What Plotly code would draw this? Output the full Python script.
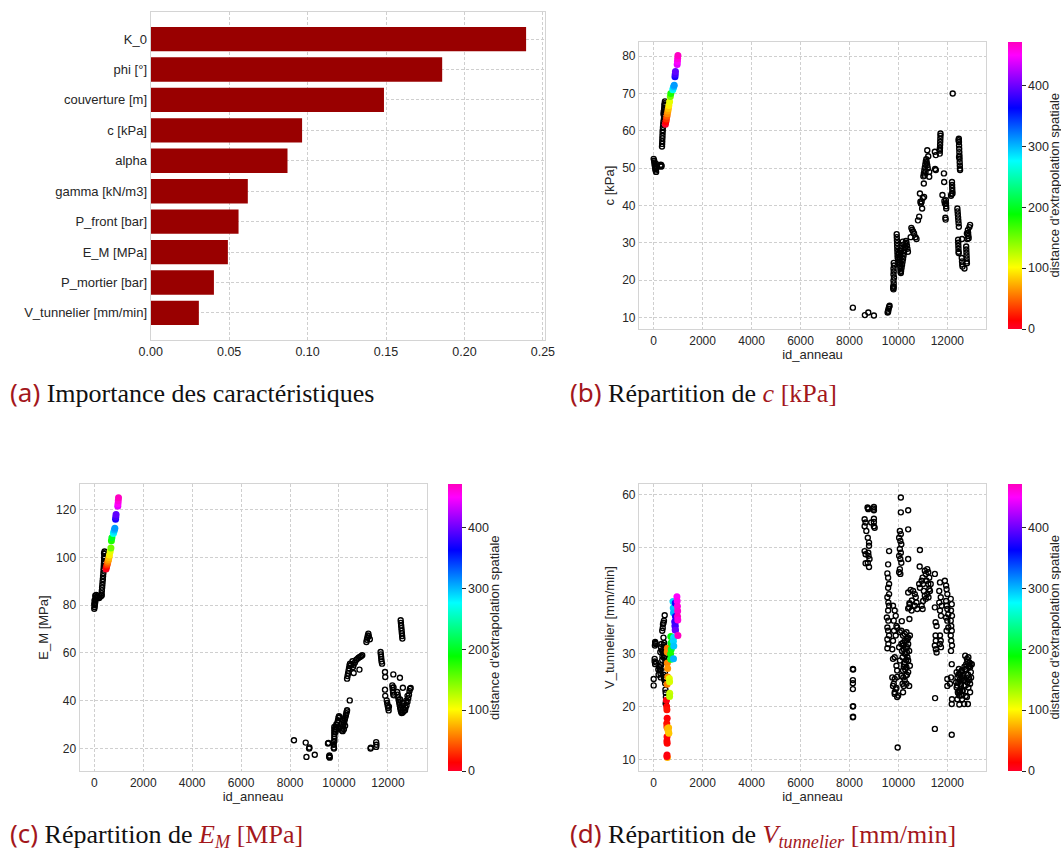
import plotly.graph_objects as go

# ---------------- (a) feature importance ----------------
features = ["K_0", "phi [°]", "couverture [m]", "c [kPa]", "alpha", "gamma [kN/m3]",
            "P_front [bar]", "E_M [MPa]", "P_mortier [bar]", "V_tunnelier [mm/min]"]
importances = [0.2393, 0.1858, 0.1487, 0.0965, 0.0872, 0.0619, 0.0560, 0.0492, 0.0403, 0.0307]
imp_ticks = [0.0, 0.05, 0.10, 0.15, 0.20, 0.25]

# ---------------- (b) c [kPa] ----------------
b_x = [0, 20, 30, 40, 50, 60, 70, 80, 100, 100, 90, 110, 300, 310, 290, 320,
       340, 345, 350, 355, 360, 365, 370, 380, 390, 400, 400, 410,
       420, 425, 430, 435, 440, 445, 450, 455, 460, 440, 430,
       8140, 8630, 8770, 9000,
       9560, 9580, 9600, 9620, 9640, 9580,
       9800, 9790, 9810, 9800, 9820, 9800, 9810, 9800, 9820, 9810, 9790, 9810,
       9930, 9935, 9940, 9945, 9950, 9955, 9960, 9965, 9970, 9990, 10000,
       10030, 10040, 10050, 10060, 10070, 10080, 10090, 10100, 10110, 10130, 10150, 10170, 10190,
       10210, 10230, 10250, 10270, 10290, 10310, 10330, 10350, 10370, 10390, 10080, 10100, 10120,
       10060, 10200, 10180,
       10530, 10560, 10600, 10640, 10700, 10740, 10850, 10880, 10970, 11050, 11040, 10900, 10920,
       10800, 10500, 10950, 11000,
       11020, 11040, 11060, 11080, 11100, 11120, 11140, 11160, 11180, 11200, 11070, 11110,
       11180, 11220, 11260, 11260, 11490, 11530, 11530, 11500,
       11690, 11695, 11700, 11705, 11710, 11715, 11720, 11720, 11690,
       11860, 11870, 11800, 11940, 11945, 11950, 11955, 11920, 11930, 11900, 11880,
       12190, 12195, 12200, 12205, 12210, 12170, 12150,
       12220,
       12470, 12475, 12480, 12485, 12490, 12495, 12500, 12505, 12510, 12515, 12520, 12460, 12480,
       12410, 12420, 12430, 12440, 12450, 12460, 12470,
       12440, 12445, 12450, 12455, 12460, 12465,
       12590, 12600, 12610, 12620, 12700,
       12770, 12775, 12780, 12785, 12790, 12795, 12800,
       12840, 12850, 12860, 12870, 12930, 12900, 12800, 12820, 12600]
b_y = [52.5, 52.0, 51.5, 51.0, 50.6, 50.2, 49.8, 49.4, 49.0, 50.5, 51.2, 50.0, 50.4, 50.8, 50.9, 50.6,
       55.8, 56.5, 57.2, 58.0, 58.7, 59.5, 60.2, 61.0, 61.8, 62.5, 64.5, 65.2,
       63.2, 63.8, 64.4, 65.0, 65.6, 66.2, 66.8, 67.4, 67.9, 67.0, 66.0,
       12.6, 10.6, 11.3, 10.5,
       11.3, 11.8, 12.3, 12.8, 13.1, 11.5,
       17.5, 18.3, 19.1, 19.9, 20.7, 21.5, 22.3, 23.1, 23.9, 24.6, 17.8, 18.2,
       32.3, 31.5, 30.7, 29.9, 29.1, 28.3, 27.5, 26.7, 26.0, 25.5, 24.8,
       27.0, 26.2, 25.4, 24.6, 23.8, 23.0, 22.2, 21.9, 22.5, 23.3, 24.1, 24.9, 25.7,
       26.5, 27.3, 28.1, 28.9, 29.7, 30.5, 30.0, 29.2, 28.4, 27.6, 26.5, 27.8, 28.6,
       28.0, 29.5, 30.3,
       34.0, 33.5, 33.0, 32.5, 31.5, 31.0, 37.0, 43.2, 39.2, 42.3, 45.9, 41.0, 40.5,
       36.0, 31.5, 41.0, 42.0,
       47.8, 48.6, 49.4, 50.2, 51.0, 51.8, 52.4, 51.5, 50.8, 50.0, 48.0, 49.0,
       54.8, 53.2, 49.0, 47.7, 54.4, 53.5, 49.5, 49.8,
       53.9, 54.7, 55.5, 56.3, 57.1, 57.9, 58.7, 59.3, 55.0,
       48.6, 46.3, 42.8, 41.4, 40.6, 39.8, 39.2, 36.7, 36.2, 40.5, 41.2,
       46.3, 45.5, 44.7, 43.9, 43.2, 43.0, 42.6,
       70.0,
       57.9, 57.0, 56.1, 55.2, 54.3, 53.4, 52.5, 51.6, 50.7, 49.9, 49.5, 57.5, 53.0,
       39.2, 38.4, 37.6, 36.8, 36.0, 35.2, 34.3,
       30.8, 30.0, 29.2, 28.4, 27.6, 27.2,
       25.9, 25.0, 24.2, 23.6, 23.1,
       29.0, 28.2, 27.4, 26.6, 25.8, 25.0, 24.5,
       33.4, 32.6, 31.8, 31.2, 34.8, 34.2, 32.5, 31.0, 31.0]
b_ext_x = [480, 500, 520, 540, 560, 580, 600, 620, 650, 680, 700, 780, 800, 820, 840, 870, 880, 890,
           960, 970, 980, 990]
b_ext_y = [61.8, 62.5, 63.2, 63.9, 64.6, 65.3, 66.0, 66.8, 67.8, 69.2, 70.0, 71.0, 71.5, 71.9, 72.2,
           74.5, 75.2, 75.9, 77.8, 78.6, 79.4, 80.2]
b_ext_d = [0, 15, 30, 45, 60, 70, 80, 95, 110, 150, 180, 270, 285, 300, 310, 370, 385, 395,
           440, 450, 460, 470]

# ---------------- (c) E_M [MPa] ----------------
c_x = [0, 10, 20, 30, 40, 50, 60, 40, 80, 100, 150, 200, 250, 300, 0, 10,
       300, 310, 320, 330, 340, 350, 360, 370, 380, 290,
       385, 390, 395, 400, 405, 410, 415, 420, 420, 410, 400,
       8160, 8640, 8780, 8790, 8670, 9010,
       9550, 9570, 9610, 9615, 9620, 9600,
       9780, 9785, 9790, 9795,
       9810, 9810, 9810, 9810, 9810, 9810, 9810,
       9860, 9880, 9900, 9920, 9940, 9960, 9980, 10000, 10020, 9870, 9890,
       10120, 10140, 10160, 10180, 10200, 10220, 10240, 10260, 10280, 10300, 10320, 10330, 10150, 10200, 10250,
       10440,
       10330, 10350, 10370, 10390, 10410, 10430, 10450, 10575, 10600, 10650, 10700, 10750, 10800, 10850,
       10900, 10950, 10836, 10600, 10500, 10550,
       11120, 11140, 11160, 11180, 11200, 11220, 11260,
       11290, 11300, 11520, 11520, 11530,
       11700, 11710, 11720, 11730, 11740, 11760,
       11880, 11890, 12220, 12490, 11880, 11890,
       11950, 11970, 11990, 12010, 12030, 12040,
       12180, 12190, 12200, 12210, 12220, 12250, 12230,
       12520, 12530, 12540, 12550, 12560, 12570, 12580, 12590,
       12610,
       12380, 12400, 12420, 12440, 12460, 12480, 12500, 12520, 12540, 12560, 12600, 12640, 12680, 12720,
       12760, 12800, 12830, 12860, 12880, 12900, 12930, 12500, 12560, 12620, 12700, 12750, 12800, 12650]
c_y = [78.5, 79.2, 80.0, 80.8, 81.6, 82.4, 83.2, 84.0, 84.3, 83.5, 83.2, 83.0, 83.6, 84.2, 80.5, 82.0,
       85.0, 86.2, 87.4, 88.6, 89.8, 91.0, 92.2, 93.4, 94.6, 84.0,
       95.5, 96.5, 97.5, 98.5, 99.5, 100.5, 101.5, 102.5, 100.0, 98.0, 101.8,
       23.4, 22.4, 19.9, 20.4, 16.4, 17.3,
       22.0, 22.3, 17.0, 16.4, 16.1, 16.6,
       22.6, 21.5, 20.4, 19.9,
       23.0, 24.0, 25.0, 26.0, 27.0, 28.0, 29.0,
       26.8, 27.8, 28.8, 29.8, 30.8, 31.8, 32.8, 33.5, 33.0, 29.0, 30.0,
       27.5, 28.3, 29.1, 29.9, 30.7, 31.5, 32.3, 33.1, 33.9, 34.7, 35.5, 36.0, 27.2, 28.0, 29.5,
       40.1,
       49.2, 50.3, 51.4, 52.5, 53.6, 54.7, 55.5, 54.1, 55.0, 56.0, 57.0, 57.5, 58.0, 58.3,
       58.6, 59.0, 53.0, 51.6, 55.0, 56.5,
       64.6, 65.5, 66.4, 67.3, 68.1, 67.0, 65.7,
       19.9, 20.3, 22.6, 20.6, 21.5,
       60.4, 59.4, 58.4, 57.4, 56.4, 55.5,
       52.0, 49.9, 51.0, 49.6, 44.6, 42.0,
       40.1, 39.0, 37.9, 36.9, 35.9, 37.5,
       46.4, 45.4, 44.4, 43.4, 42.5, 42.2, 45.5,
       73.7, 72.6, 71.5, 70.4, 69.3, 68.2, 67.1, 66.0,
       45.4,
       43.6, 42.5, 41.4, 40.3, 39.2, 38.1, 37.0, 36.0, 35.3, 34.8, 35.0, 35.5, 36.0, 37.0,
       38.0, 39.5, 41.0, 42.5, 44.0, 45.0, 45.3, 40.5, 38.0, 37.0, 36.0, 40.0, 42.0, 39.0]
c_ext_x = [480, 500, 520, 540, 560, 580, 600, 620, 650, 680, 700, 720, 780, 800, 820, 840, 870, 880, 890,
           960, 970, 980, 990]
c_ext_y = [95.2, 96.0, 96.8, 97.6, 98.4, 99.2, 100.0, 101.0, 102.5, 104.0, 107.0, 108.3, 110.0, 110.8,
           111.5, 112.2, 116.0, 117.0, 118.0, 121.5, 122.5, 123.8, 125.0]
c_ext_d = [0, 15, 30, 45, 60, 70, 80, 95, 110, 150, 180, 200, 270, 285, 300, 310, 370, 385, 395,
           440, 450, 460, 470]

# ---------------- (d) V_tunnelier [mm/min] ----------------
d_x = [0, 0, 40, 60, 40, 50, 70, 80, 60, 100, 250, 260, 280, 290, 300, 350, 360, 380, 350, 370, 380, 400,
       420, 450, 410, 430, 440, 400, 420, 460, 470, 480, 450, 460, 470, 400, 420, 440, 470, 480, 490, 500,
       505, 490, 270, 300, 320, 330, 400, 190, 200, 230,
       8140, 8140, 8140, 8140, 8140, 8140, 8150, 8150, 8150,
       8740, 8770, 9000, 9000, 8620, 8660, 9000, 9000, 8890, 8620, 8690, 8750, 8800, 8800, 8620, 8660,
       8770, 8780, 8820, 8750, 8660, 8800, 9000, 9030, 8760, 8990,
       9620, 9580, 9550, 9580, 9620, 9580, 9620, 9550, 9590, 9620, 9580, 9530, 9590, 9550, 9580, 9620,
       9550, 9590, 9550,
       9780, 9850, 9890, 9810, 9920, 9820, 9890, 9780, 9750, 9850, 9750, 9850, 9780, 9890, 9850, 9950,
       9780, 9920, 9950,
       10100, 10100, 10400, 10060, 10100, 10030, 10080, 10120, 10060, 10100, 10030, 10080, 10120, 10060,
       10030, 10080, 10400, 10400, 10880, 9970,
       10140, 9950, 10060, 10190, 10330, 10400, 10260, 10120, 10030, 10220, 10360, 10440, 10300, 10170,
       10060, 10260, 10400, 10470, 10330, 10190, 10120, 10300, 10400, 10260, 10170, 9950, 9810, 9920,
       9850, 9990, 10220, 10330, 10440, 10190, 10120, 10260, 10330, 10400, 10470, 10370, 10230,
       10200, 10250, 10300, 10350, 10150, 10280, 10350, 10200, 10320, 10380, 10220, 10180,
       10400, 10470, 10440, 10540, 10600, 10670, 10710, 10740, 10670, 10770, 10850, 10880, 10950, 10990,
       11010, 11040, 11080, 11010, 10950, 10990, 11080, 11120, 11180, 11220, 11260, 11150, 11220, 11260,
       11180, 11120, 11230, 11290, 11320, 10450, 10400, 10500, 10550, 10870, 10450,
       11490, 11700, 11490, 11520, 11560, 11520, 11530, 11490, 11530, 11560, 11500, 11490,
       11670, 11730, 11670, 11770, 11700, 11740, 11700, 11730, 11700, 11740,
       11900, 11950, 11970, 12000, 11950, 11970, 12000, 12040, 11950, 12000, 12040, 11970,
       12140, 12180, 12150, 12190, 12140, 12160, 12180, 12140, 12160, 12190, 12150, 12180, 12150, 12110,
       12190, 12180, 12180, 12000, 12000,
       12380, 12410, 12450, 12380, 12430, 12490, 12520, 12550, 12590, 12520, 12470, 12590, 12630, 12660,
       12690, 12630, 12580, 12600, 12410, 12360, 12730, 12770, 12800, 12730, 12860, 12900, 12930, 12960,
       12880, 12820, 12860, 12930, 12800, 12840, 12690, 12490, 12930, 12970, 12900, 13000,
       12450, 12500, 12550, 12600, 12650, 12700, 12750, 12550, 12480, 12620, 12780, 12850, 12900, 12820,
       12880, 12950, 12700, 12400, 12450, 12750]
d_y = [25.2, 24.0, 28.5, 28.0, 29.0, 31.5, 32.0, 31.8, 32.2, 28.3, 27.2, 26.8, 26.2, 25.5, 27.8, 28.8,
       29.5, 30.4, 34.3, 34.8, 35.5, 35.8, 36.2, 37.2, 31.6, 32.0, 31.2, 30.0, 29.2, 30.8, 29.6, 28.5,
       27.5, 26.5, 25.5, 26.0, 25.4, 25.0, 24.4, 23.2, 22.6, 21.8, 21.0, 20.6, 30.3, 31.2, 31.8, 30.6,
       33.0, 27.0, 26.0, 27.5,
       27.1, 25.0, 24.4, 23.3, 20.0, 18.0, 27.0, 20.1, 18.1,
       57.5, 57.2, 57.6, 57.0, 55.3, 54.7, 55.4, 54.8, 54.7, 54.0, 53.1, 51.8, 50.9, 50.3, 49.3, 48.7,
       49.0, 48.4, 47.8, 47.1, 47.0, 46.3, 54.0, 53.7, 57.4, 57.3,
       49.3, 46.8, 45.1, 44.3, 43.1, 42.4, 41.2, 40.6, 39.6, 39.0, 38.1, 36.8, 36.2, 34.9, 34.3, 33.4,
       32.7, 31.8, 31.0,
       39.0, 38.1, 37.1, 36.2, 35.2, 34.3, 33.4, 32.4, 30.8, 29.3, 25.5, 25.2, 23.9, 23.3, 22.4, 21.8,
       29.0, 27.7, 26.8,
       59.4, 56.6, 57.0, 53.1, 52.5, 51.8, 51.2, 50.6, 49.7, 49.0, 48.4, 47.8, 47.1, 45.9, 45.3, 45.0,
       53.4, 47.8, 49.5, 12.3,
       36.1, 34.9, 34.0, 33.4, 34.0, 33.0, 32.4, 31.8, 31.2, 30.8, 31.2, 30.5, 29.9, 29.3, 28.7, 28.3,
       28.7, 27.7, 27.4, 26.8, 25.8, 25.8, 26.5, 24.9, 24.3, 25.6, 24.3, 23.5, 22.7, 22.1, 23.9, 24.3,
       23.9, 22.7, 34.3, 33.7, 32.4, 31.8, 33.4, 29.3, 28.0,
       31.5, 30.0, 31.0, 30.2, 30.5, 27.0, 26.0, 25.5, 28.8, 32.8, 27.5, 32.0,
       41.5, 39.3, 38.7, 38.1, 41.8, 41.2, 40.6, 39.6, 39.0, 38.4, 43.1, 42.4, 43.7, 44.3, 43.1, 41.8,
       40.9, 39.9, 39.0, 38.4, 45.6, 45.0, 45.9, 45.3, 44.3, 43.7, 43.1, 42.1, 41.2, 40.3, 40.6, 41.8,
       43.1, 36.5, 38.5, 42.0, 40.0, 46.4, 39.5,
       45.0, 43.4, 38.7, 35.9, 35.2, 33.4, 32.4, 31.5, 30.8, 30.2, 21.6, 15.8,
       41.8, 40.6, 39.6, 39.0, 38.1, 37.1, 33.4, 32.4, 31.8, 31.2,
       43.7, 42.8, 42.1, 41.2, 39.9, 39.0, 38.4, 37.4, 36.8, 36.2, 34.9, 34.3,
       40.3, 39.3, 38.1, 37.1, 36.2, 35.2, 34.3, 33.4, 32.4, 31.5, 30.5, 28.0, 25.5, 24.3, 21.4, 20.5,
       14.7, 25.2, 23.9,
       26.5, 25.5, 24.6, 23.6, 22.7, 22.1, 23.0, 24.3, 25.2, 26.1, 27.1, 26.8, 25.8, 24.9, 23.9, 23.0,
       22.1, 21.4, 21.4, 24.6, 27.1, 28.0, 29.0, 29.6, 29.3, 28.3, 27.4, 26.5, 25.5, 24.6, 23.6, 22.7,
       21.8, 20.5, 20.5, 20.4, 24.3, 25.5, 27.7, 28.0,
       26.0, 25.0, 24.0, 23.0, 26.0, 25.0, 24.0, 26.5, 23.0, 25.5, 27.0, 26.0, 25.0, 28.5, 27.5, 28.0,
       27.5, 24.0, 22.5, 22.0]
d_ext_x = [520, 530, 540, 550, 535, 540, 560, 545, 540, 550, 545, 560, 540,
           600, 610, 620,
           560, 570, 575, 550,
           640, 650, 655, 650,
           560, 555,
           700, 710, 720, 690, 700, 710,
           790, 800, 810, 815, 805, 820, 810,
           860, 870, 880,
           880, 890, 885, 880, 890,
           950, 960, 970, 980, 975, 985, 990]
d_ext_y = [21.2, 20.0, 19.4, 17.8, 16.8, 16.2, 15.9, 14.3, 13.5, 13.1, 10.9, 10.4, 10.6,
           15.3, 16.0, 15.0,
           28.2, 27.2, 25.6, 24.2,
           25.3, 24.7, 22.5, 21.9,
           31.0, 30.3,
           33.2, 32.0, 30.8, 29.9, 29.0, 28.9,
           39.8, 38.6, 37.7, 33.0, 32.3, 31.4, 29.0,
           36.0, 35.2, 34.5,
           39.5, 37.0, 36.0, 35.2, 34.4,
           40.7, 39.9, 38.9, 38.0, 37.0, 36.3, 33.4]
d_ext_d = [10, 15, 20, 12, 18, 22, 70, 10, 12, 15, 8, 75, 10,
           80, 78, 82,
           60, 65, 62, 58,
           110, 115, 120, 125,
           55, 60,
           190, 195, 200, 180, 185, 205,
           290, 295, 300, 285, 290, 295, 300,
           380, 390, 395,
           370, 375, 380, 385, 400,
           450, 455, 460, 465, 470, 460, 470]

id_ticks = [0, 2000, 4000, 6000, 8000, 10000, 12000]
id_labels = ["0", "2000", "4000", "6000", "8000", "10000", "12000"]
cbar_ticks = [0, 100, 200, 300, 400]
cbar_title = "distance d'extrapolation spatiale"
DIST_MAX = 471

# matplotlib gist_rainbow
rainbow = [[0.000, "rgb(255,0,41)"], [0.030, "rgb(255,0,0)"], [0.215, "rgb(255,255,0)"],
           [0.400, "rgb(0,255,0)"], [0.586, "rgb(0,255,255)"], [0.770, "rgb(0,0,255)"],
           [0.954, "rgb(255,0,255)"], [1.000, "rgb(255,0,191)"]]

W, H = 1061, 851
TXT = "#262626"
FONT = "Liberation Sans, Arial, sans-serif"


def pxx(a):
    return a / W


def pxy(a):
    return 1 - a / H


def px_x(a, b):
    return [pxx(a), pxx(b)]


def px_y(top, bottom):
    return [pxy(bottom), pxy(top)]


fig = go.Figure()

fig.add_trace(go.Bar(x=importances, y=features, orientation="h", width=0.8,
                     marker=dict(color="#990000", line=dict(width=0)),
                     xaxis="x", yaxis="y", showlegend=False))


def black_trace(xs, ys, ax, ay):
    return go.Scatter(x=xs, y=ys, mode="markers", xaxis=ax, yaxis=ay, showlegend=False,
                      marker=dict(symbol="circle-open", size=5, color="black",
                                  line=dict(width=1.4, color="black")))


def color_trace(xs, ys, ds, ax, ay, cbx, cby):
    return go.Scatter(x=xs, y=ys, mode="markers", xaxis=ax, yaxis=ay, showlegend=False,
                      marker=dict(symbol="circle", size=7, color=ds, colorscale=rainbow,
                                  cmin=0, cmax=DIST_MAX, showscale=True, line=dict(width=0),
                                  colorbar=dict(x=cbx, xanchor="left", y=cby, yanchor="middle",
                                                len=287 / H, lenmode="fraction", thickness=14,
                                                thicknessmode="pixels", xpad=0, ypad=0,
                                                outlinewidth=0, tickvals=cbar_ticks,
                                                ticks="outside", ticklen=4, tickcolor=TXT,
                                                tickfont=dict(size=12.5, color=TXT, family=FONT))))


fig.add_trace(black_trace(b_x, b_y, "x2", "y2"))
fig.add_trace(color_trace(b_ext_x, b_ext_y, b_ext_d, "x2", "y2", pxx(1007.7), pxy(185.5)))
fig.add_trace(black_trace(c_x, c_y, "x3", "y3"))
fig.add_trace(color_trace(c_ext_x, c_ext_y, c_ext_d, "x3", "y3", pxx(448.3), pxy(627.5)))
fig.add_trace(black_trace(d_x, d_y, "x4", "y4"))
fig.add_trace(color_trace(d_ext_x, d_ext_y, d_ext_d, "x4", "y4", pxx(1007.7), pxy(627.5)))

common = dict(showgrid=True, gridcolor="#cfcfcf", griddash="3px,2px", gridwidth=0.8,
              showline=True, mirror=True, linecolor="#d4d4d4", linewidth=1.2,
              zeroline=False, ticks="", automargin=False,
              tickfont=dict(size=12, color=TXT, family=FONT))
title_font = dict(size=13, color=TXT, family=FONT)

layout = dict(
    width=W, height=H, autosize=False, margin=dict(l=0, r=0, t=0, b=0, pad=0),
    paper_bgcolor="white", plot_bgcolor="white", showlegend=False,
    font=dict(family=FONT, color=TXT),
    xaxis=dict(domain=px_x(150.7, 545.4), anchor="y", range=[0, 0.2516], tickvals=imp_ticks,
               tickformat=".2f", **{**common, "tickfont": dict(size=12.5, color=TXT, family=FONT)}),
    yaxis=dict(domain=px_y(12, 340), anchor="x", type="category", categoryorder="array",
               categoryarray=features, range=[9.89, -0.89],
               **{**common, "tickfont": dict(size=13, color=TXT, family=FONT)}),
    xaxis2=dict(domain=px_x(639, 986), anchor="y2", range=[-600, 13580], tickvals=id_ticks,
                ticktext=id_labels,
                title=dict(text="id_anneau", font=title_font, standoff=3), **common),
    yaxis2=dict(domain=px_y(42, 329), anchor="x2", range=[6.87, 83.83], tickvals=list(range(10, 81, 10)),
                title=dict(text="c [kPa]", font=title_font, standoff=4), **common),
    xaxis3=dict(domain=px_x(79.6, 426.6), anchor="y3", range=[-600, 13580], tickvals=id_ticks,
                ticktext=id_labels,
                title=dict(text="id_anneau", font=title_font, standoff=3), **common),
    yaxis3=dict(domain=px_y(484, 771), anchor="x3", range=[10.5, 130.8], tickvals=list(range(20, 121, 20)),
                title=dict(text="E_M [MPa]", font=title_font, standoff=4), **common),
    xaxis4=dict(domain=px_x(639, 986), anchor="y4", range=[-600, 13580], tickvals=id_ticks,
                ticktext=id_labels,
                title=dict(text="id_anneau", font=title_font, standoff=3), **common),
    yaxis4=dict(domain=px_y(484, 771), anchor="x4", range=[7.87, 61.94], tickvals=list(range(10, 61, 10)),
                title=dict(text="V_tunnelier [mm/min]", font=title_font, standoff=4), **common),
)
fig.update_layout(**layout)

# colorbar titles as rotated annotations (so they never push the margins)
for tx, ty in [(1054, 185.5), (494.6, 627.5), (1054, 627.5)]:
    fig.add_annotation(x=pxx(tx), y=pxy(ty), xref="paper", yref="paper", xanchor="center",
                       yanchor="middle", showarrow=False, textangle=-90, text=cbar_title,
                       font=dict(size=13, color=TXT, family=FONT))

RED = "#a3171c"
LBL = "font-family:'Noto Sans', sans-serif;color:" + RED
captions = [
    (8, 392, "<span style=\"" + LBL + "\">(a)</span> Importance des caractéristiques"),
    (568, 392, "<span style=\"" + LBL + "\">(b)</span> Répartition de "
               "<span style=\"color:" + RED + "\"><i>c</i> [kPa]</span>"),
    (8, 833, "<span style=\"" + LBL + "\">(c)</span> Répartition de "
             "<span style=\"color:" + RED + "\"><i>E<sub>M</sub></i> [MPa]</span>"),
    (568, 833, "<span style=\"" + LBL + "\">(d)</span> Répartition de "
               "<span style=\"color:" + RED + "\"><i>V<sub>tunnelier</sub></i> [mm/min]</span>"),
]
for cx, cy, txt in captions:
    fig.add_annotation(x=pxx(cx), y=pxy(cy), xref="paper", yref="paper", xanchor="left",
                       yanchor="middle", showarrow=False, text=txt,
                       font=dict(family="Liberation Serif, serif", size=26, color="#111111"))

# remove the default 8px page margin so the figure sits at the window's top-left corner
fig.write_html("out.html", config=dict(displayModeBar=False),
               post_script="document.body.style.margin='0px';document.body.style.overflow='hidden';")
